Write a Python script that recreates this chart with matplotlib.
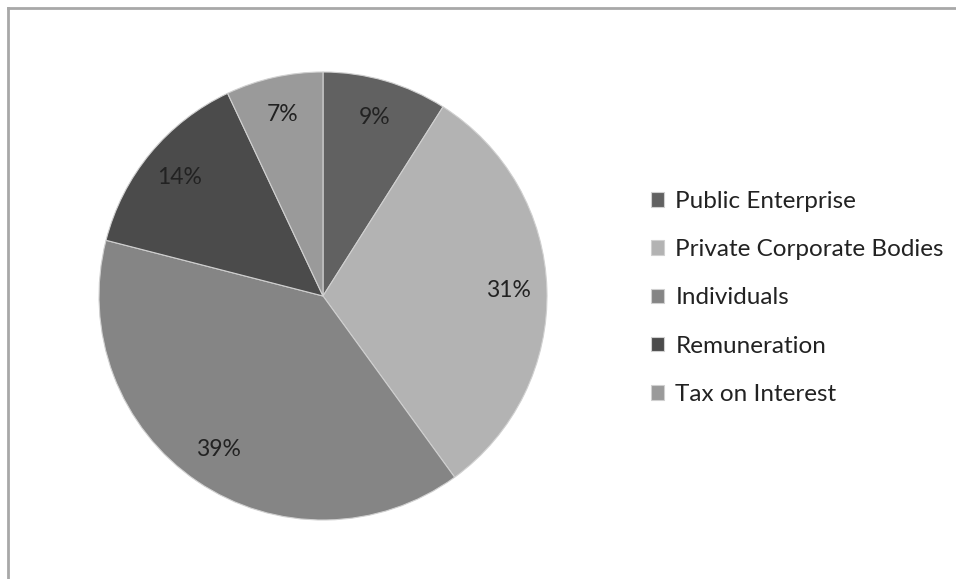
import matplotlib.pyplot as plt
from matplotlib.lines import Line2D

categories = ["Public Enterprise", "Private Corporate Bodies", "Individuals",
              "Remuneration", "Tax on Interest"]
shares = [9, 31, 39, 14, 7]
colors = ["#616161", "#b3b3b3", "#858585", "#4b4b4b", "#9a9a9a"]

plt.rcParams['font.family'] = ['Lato', 'DejaVu Sans']

fig = plt.figure(figsize=(9.56, 5.79), dpi=100)

# outer chart frame (left and top edges visible)
fig.add_artist(Line2D([7.5 / 956, 7.5 / 956], [0, 1 - 7.5 / 579],
                      transform=fig.transFigure, color="#a8a8a8", lw=2))
fig.add_artist(Line2D([7.5 / 956, 1], [1 - 7.5 / 579, 1 - 7.5 / 579],
                      transform=fig.transFigure, color="#a8a8a8", lw=2))

ax = fig.add_axes([99 / 956, 59 / 579, 448 / 956, 448 / 579])
wedges, texts, autotexts = ax.pie(
    shares, colors=colors, startangle=90, counterclock=False,
    autopct=lambda p: f"{p:.0f}%", pctdistance=0.83, radius=1,
    wedgeprops=dict(linewidth=0.8, edgecolor="#d0d0d0"),
    textprops=dict(fontsize=16.5, color="#222222"))
ax.set_xlim(-1, 1)
ax.set_ylim(-1, 1)
ax.set_aspect("auto")
ax.axis("off")

fig.legend(wedges, categories, loc="center left",
           bbox_to_anchor=(651 / 956, 1 - 298 / 579), frameon=False,
           borderpad=0, borderaxespad=0,
           fontsize=17.5, handlelength=0.55, handleheight=0.55,
           handletextpad=0.45, labelspacing=1.12, labelcolor="#222222")

plt.savefig("out.png", dpi=100)
